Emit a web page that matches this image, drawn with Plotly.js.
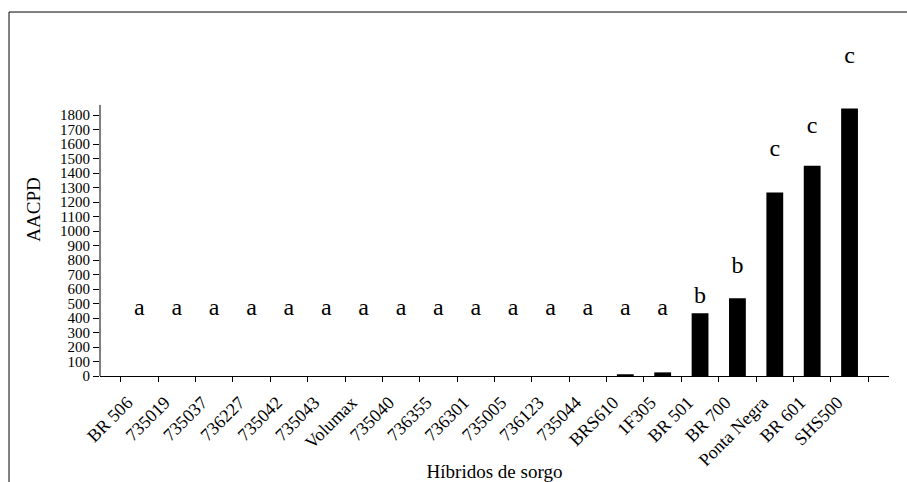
<!DOCTYPE html>
<html>
<head>
<meta charset="utf-8">
<script src="https://cdn.plot.ly/plotly-3.0.1.min.js"></script>
<style>html,body{margin:0;padding:0;background:#fff;}#chart{width:907px;height:482px;}</style>
</head>
<body>
<div id="chart"></div>
<script>
const categories = ["BR 506","735019","735037","736227","735042","735043","Volumax","735040","736355","736301","735005","736123","735044","BRS610","1F305","BR 501","BR 700","Ponta Negra","BR 601","SHS500"];
const aacpd = [0,0,0,0,0,0,0,0,0,0,0,0,0,12,25,432,536,1265,1450,1845];
const letters = ["a","a","a","a","a","a","a","a","a","a","a","a","a","a","a","b","b","c","c","c"];
const letterHeights = [460,460,460,460,460,460,460,460,460,460,460,460,460,460,460,545,750,1560,1720,2200];
const yTicks = [0,100,200,300,400,500,600,700,800,900,1000,1100,1200,1300,1400,1500,1600,1700,1800];
const yAxisTop = 1870;

const serif = "'Liberation Serif', 'Times New Roman', serif";

const bars = {
  type: "bar",
  x: categories,
  y: aacpd,
  marker: {color: "#000"},
  hoverinfo: "skip"
};
const labels = {
  type: "scatter",
  mode: "text",
  x: categories,
  y: letterHeights,
  text: letters,
  textposition: "middle center",
  textfont: {family: serif, size: 24, color: "#000"},
  cliponaxis: false,
  hoverinfo: "skip"
};

const layout = {
  width: 907,
  height: 482,
  margin: {l: 100, r: 18, t: 43, b: 106, pad: 0},
  paper_bgcolor: "#fff",
  plot_bgcolor: "#fff",
  showlegend: false,
  bargap: 0.55,
  font: {family: serif, color: "#000"},
  xaxis: {
    type: "category",
    showline: true, linecolor: "#000", linewidth: 1,
    ticks: "outside", ticklen: 5, tickcolor: "#000", tickwidth: 1,
    tickson: "boundaries",
    tickangle: -45,
    ticklabelshift: -12,
    ticklabelstandoff: 8,
    tickfont: {family: serif, size: 18, color: "#000"},
    showgrid: false, zeroline: false,
    title: {text: "Híbridos de sorgo", font: {family: serif, size: 19, color: "#000"}, standoff: 2}
  },
  yaxis: {
    range: [0, 2297],
    tickmode: "array",
    tickvals: yTicks,
    ticktext: yTicks.map(String),
    showline: false,
    ticks: "outside", ticklen: 6, tickcolor: "#000", tickwidth: 1,
    tickfont: {family: serif, size: 15, color: "#000"},
    showgrid: false, zeroline: false,
    title: {text: "AACPD", font: {family: serif, size: 19, color: "#000"}, standoff: 14}
  },
  shapes: [
    {type: "line", xref: "paper", yref: "y", x0: 0, x1: 0, y0: 0, y1: yAxisTop, line: {color:"#000", width:1}},
    {type: "line", xref: "paper", yref: "paper", x0: -0.1153, x1: 1.03, y0: 1.093, y1: 1.093, line: {color:"#000", width:1}},
    {type: "line", xref: "paper", yref: "paper", x0: -0.1153, x1: -0.1153, y0: 1.093, y1: -0.35, line: {color:"#000", width:1}}
  ]
};
Plotly.newPlot("chart", [bars, labels], layout, {staticPlot: true, displayModeBar: false});
</script>
</body>
</html>
